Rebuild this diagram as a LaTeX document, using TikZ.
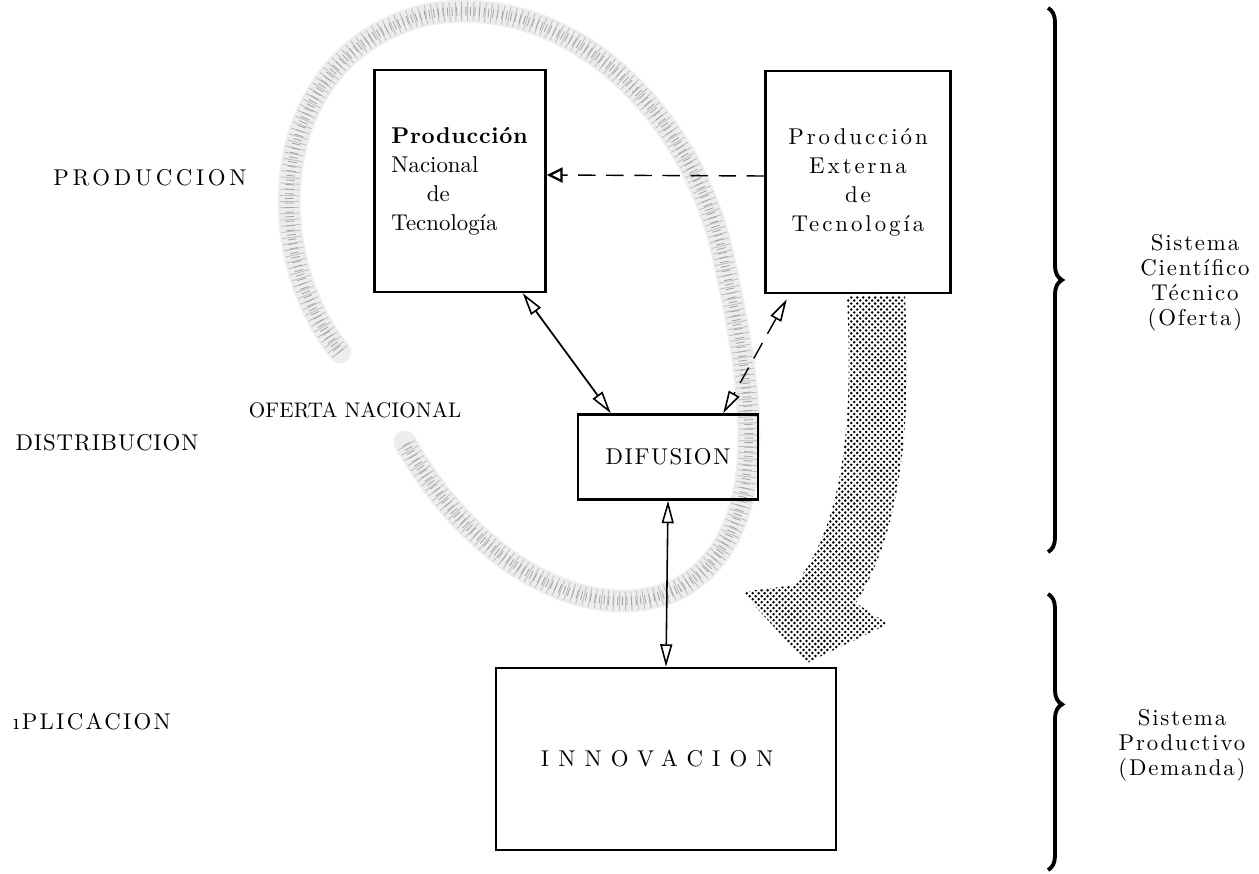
\documentclass[tikz,border=0pt]{standalone}
\usepackage{fontspec}
\setmainfont{lmroman10-regular}[Extension=.otf, BoldFont=lmroman10-bold,
  ItalicFont=lmroman10-italic, BoldItalicFont=lmroman10-bolditalic]
\usetikzlibrary{positioning,arrows.meta,patterns,decorations.pathreplacing}

\pgfdeclarepatternformonly{puntosgruesos}{\pgfqpoint{-1pt}{-1pt}}{\pgfqpoint{4pt}{4pt}}{\pgfqpoint{3.4pt}{3.4pt}}{
  \pgfpathcircle{\pgfqpoint{0pt}{0pt}}{0.8pt}
  \pgfpathcircle{\pgfqpoint{1.7pt}{1.7pt}}{0.8pt}
  \pgfusepath{fill}}

\begin{document}
\begin{tikzpicture}[x=0.02cm,y=-0.02cm,
    every node/.style = {inner sep=2pt, font=\fontsize{13}{16.5}\selectfont},
    caja/.style = {draw, line width=1.4pt, inner sep=0pt, align=center},
    llave/.style = {line width=2.2pt, decorate,
                    decoration={brace, amplitude=0.28cm}},
    espiral/.style = {line width=13pt, draw=black!7, line cap=round},
    puntos/.style = {line width=11pt, draw=black!25, dash pattern=on 0.5pt off 2.9pt},
    puntitos/.style = {line width=5pt, draw=black!35, dash pattern=on 0.5pt off 2.1pt},
    abierta/.tip = {Triangle[open, length=4.5mm, width=2.4mm, line width=0.9pt]},
    doble/.style = {line width=1pt, abierta-abierta},
    trazos/.style = {line width=0.8pt, dash pattern=on 10pt off 6pt}]
\useasboundingbox (0,0) rectangle (1259,874);

% espiral punteada (oferta nacional)
\foreach \estilo in {espiral, puntos, puntitos}
  \path[\estilo] (340,352) .. controls (258,250) and (268,55) .. (425,15)
    .. controls (565,-12) and (695,110) .. (725,265)
    .. controls (755,400) and (772,535) .. (680,588)
    .. controls (590,632) and (470,560) .. (405,442);

% cajas
\node[caja, minimum width=3.42cm, minimum height=4.44cm, align=left,
      font=\fontsize{13}{16.5}\selectfont]
      (pnt) at (460,181) {\textbf{\addfontfeatures{LetterSpace=3}Producción}\\
      Nacional\\\hspace{1.55em}de\\Tecnología};
\node[caja, minimum width=3.7cm, minimum height=4.44cm,
      font=\fontsize{13}{16.5}\selectfont\addfontfeatures{LetterSpace=13}]
      (pet) at (858,182) {Producción\\Externa\\de\\Tecnología};
\node[caja, minimum width=3.6cm, minimum height=1.7cm,
      font=\fontsize{13}{16}\selectfont\addfontfeatures{LetterSpace=7}]
      (dif) at (668,457) {DIFUSION};
\node[caja, minimum width=6.8cm, minimum height=3.64cm,
      font=\fontsize{13}{16}\selectfont\addfontfeatures{LetterSpace=40}]
      (inn) at (666,759) {INNOVACION\hspace{0.35cm}};

% flecha gruesa punteada
\path[pattern=puntosgruesos, pattern color=black]
  (847,296) -- (905,296) .. controls (912,420) and (902,530) .. (856,603)
  -- (888,624) -- (807,663) -- (742,592) -- (795,585)
  .. controls (845,520) and (853,420) .. (847,296) -- cycle;

% rotulos
\node[font=\fontsize{13}{16}\selectfont\addfontfeatures{LetterSpace=16}]
      (prod) at (150,178) {PRODUCCION};
\node[font=\fontsize{13}{16}\selectfont\addfontfeatures{LetterSpace=4}]
      (dist) at (107,443) {DISTRIBUCION};
\node[font=\fontsize{13}{16}\selectfont\addfontfeatures{LetterSpace=10}]
      (apli) at (92,722)  {ıPLICACION};
\node[font=\fontsize{12}{16}\selectfont\addfontfeatures{LetterSpace=1}]
      (ofn)  at (355,410) {OFERTA NACIONAL};
\node[align=center, font=\fontsize{13}{14.3}\selectfont\addfontfeatures{LetterSpace=8}]
      (sct)  at (1195,283) {Sistema\\Científico\\Técnico\\(Oferta)};
\node[align=center, font=\fontsize{13}{14.3}\selectfont\addfontfeatures{LetterSpace=8}]
      (spd)  at (1182,745) {Sistema\\Productivo\\(Demanda)};

% conectores
\draw[trazos, -{Triangle[open, length=3.2mm, width=3mm, line width=1.3pt]}]
  ([yshift=0.12cm]pet.west) -- ([yshift=0.12cm]pnt.east);
\draw[doble] ([xshift=-0.48cm]pnt.south east) -- ([xshift=0.68cm]dif.north west);
\draw[trazos, abierta-abierta] ([xshift=0.45cm,yshift=-0.1cm]pet.south west)
  -- ([xshift=-0.72cm]dif.north east);
\draw[line width=0.9pt, abierta-abierta] (dif.south) -- (inn.north);

% llaves
\coordinate (la) at (1048,8);
\coordinate (lb) at (1048,552);
\coordinate (lc) at (1048,594);
\coordinate (ld) at (1048,870);
\draw[llave] (la) -- (lb);
\draw[llave, decoration={aspect=0.4}] (lc) -- (ld);
\end{tikzpicture}
\end{document}
